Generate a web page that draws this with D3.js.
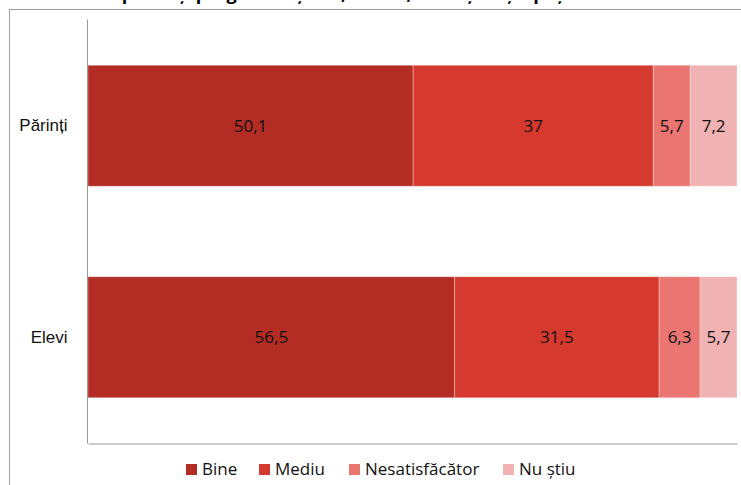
<!DOCTYPE html>
<html lang="ro">
<head>
<meta charset="utf-8">
<script src="https://d3js.org/d3.v7.min.js"></script>
<style>
  body { margin: 0; background: #fff; }
  svg { display: block; font-family: "Open Sans", "Noto Sans", sans-serif; }
  .val { font-size: 17px; fill: #111; }
  .cat text { font-size: 17px; fill: #111; }
  .leg text { font-size: 17px; fill: #111; }
</style>
</head>
<body>
<svg width="741" height="485"></svg>
<script>
// date din grafic
var categories = ["Părinți", "Elevi"];
var seriesNames = ["Bine", "Mediu", "Nesatisfăcător", "Nu știu"];
var bine = [50.1, 56.5];
var mediu = [37, 31.5];
var nesatisfacator = [5.7, 6.3];
var nuStiu = [7.2, 5.7];
var colors = ["#b32d24", "#d6392d", "#eb7571", "#f0b2b2"];

var rows = categories.map(function(c, i) {
  return { cat: c, "Bine": bine[i], "Mediu": mediu[i], "Nesatisfăcător": nesatisfacator[i], "Nu știu": nuStiu[i] };
});

var svg = d3.select("svg");

// ramă exterioară (tăiată de marginea imaginii)
svg.append("rect")
  .attr("x", 9.5).attr("y", 9.5)
  .attr("width", 760).attr("height", 500)
  .attr("fill", "none").attr("stroke", "#a0a0a0");

// titlu, ca în original: tăiat de marginea de sus
svg.append("text")
  .attr("x", 330).attr("y", 0)
  .attr("text-anchor", "middle")
  .style("font-weight", "bold").style("font-size", "18px")
  .text("Cum apreciați programul școlii, orarul, condițiile și spațiul?");

var x = d3.scaleLinear().domain([0, 100]).range([88, 737]);
var y = d3.scaleBand().domain(categories).range([20, 443]).paddingInner(0.428).paddingOuter(0.214);
var color = d3.scaleOrdinal().domain(seriesNames).range(colors);

var stacked = d3.stack().keys(seriesNames)(rows);

var g = svg.append("g");
stacked.forEach(function(layer) {
  g.selectAll(null)
    .data(layer)
    .enter().append("rect")
      .attr("x", function(d) { return x(d[0]); })
      .attr("y", function(d) { return y(d.data.cat); })
      .attr("width", function(d) { return x(d[1]) - x(d[0]); })
      .attr("height", y.bandwidth())
      .attr("fill", color(layer.key))
      .attr("stroke", "rgba(255,255,255,0.3)")
      .attr("stroke-width", 1);

  g.selectAll(null)
    .data(layer)
    .enter().append("text")
      .attr("class", "val")
      .attr("x", function(d) { return (x(d[0]) + x(d[1])) / 2; })
      .attr("y", function(d) { return y(d.data.cat) + y.bandwidth() / 2; })
      .attr("dy", "0.35em")
      .attr("text-anchor", "middle")
      .text(function(d) { return String(d.data[layer.key]).replace(".", ","); });
});

// axe
var catAxis = svg.append("g")
  .attr("class", "cat")
  .attr("transform", "translate(87.5,0)")
  .call(d3.axisLeft(y).tickSize(0).tickPadding(20).tickSizeOuter(0));
catAxis.select(".domain").attr("stroke", "#999").attr("d", "M0,19.5V443.5");

svg.append("g")
  .attr("transform", "translate(0,443.5)")
  .call(d3.axisBottom(x).ticks(0).tickSize(0).tickSizeOuter(0))
  .select(".domain").attr("stroke", "#999");

// legendă
var legX = [186, 259, 349, 503];
var leg = svg.append("g").attr("class", "leg");
seriesNames.forEach(function(s, i) {
  var item = leg.append("g").attr("transform", "translate(" + legX[i] + ",464)");
  item.append("rect").attr("width", 11).attr("height", 11).attr("fill", color(s));
  item.append("text").attr("x", 16).attr("y", 11).text(s);
});
</script>
</body>
</html>
